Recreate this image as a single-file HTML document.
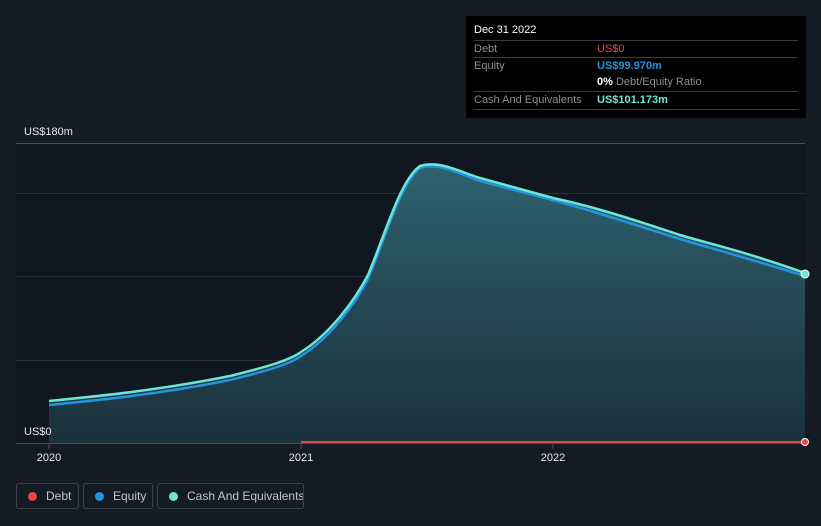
<!DOCTYPE html>
<html><head><style>
html,body{margin:0;padding:0;background:#151b25;width:821px;height:526px;overflow:hidden;font-family:"Liberation Sans",sans-serif;}
.tt{position:absolute;left:466px;top:16px;width:340px;height:102px;background:#000;font-size:11px;color:#8a8f96;}
.row{position:absolute;left:8px;right:8px;height:17px;line-height:17px;white-space:nowrap;}
.bl{border-top:1px solid #3a3d42;}
.leg{position:absolute;top:483px;height:26px;border:1px solid #3a3f48;border-radius:3px;color:#c2c6cc;font-size:12px;line-height:24px;box-sizing:border-box;white-space:nowrap;overflow:hidden;}
.leg span{display:inline-block;width:9px;height:9px;border-radius:50%;margin:0 9px 0 11px;vertical-align:-1px;}
</style></head><body>
<svg width="821" height="526" style="position:absolute;left:0;top:0">
<defs><linearGradient id="g" x1="0" y1="0" x2="0" y2="1"><stop offset="0" stop-color="#2f6673" stop-opacity="0.95"/><stop offset="1" stop-color="#1c3440" stop-opacity="0.9"/></linearGradient></defs>
<rect x="16" y="143" width="789" height="300" fill="#111720"/>
<g stroke="#2a2f37" stroke-width="1">
<line x1="16" y1="143.5" x2="805" y2="143.5" stroke="#4a4e55"/>
<line x1="16" y1="193.5" x2="805" y2="193.5"/>
<line x1="16" y1="276.5" x2="805" y2="276.5"/>
<line x1="16" y1="360.5" x2="805" y2="360.5"/>
<line x1="16" y1="443.5" x2="805" y2="443.5" stroke="#4a4e55"/>
</g>
<path d="M49,401 C100,396 160,390 230,376 C270,366 290,360 301,352 C330,334 355,300 368,275 C385,235 400,180 420,166 C440,160 460,172 480,178 L553,198 C590,206 620,215 680,235 C710,244 740,250 805,273 L805,443 L49,443 Z" fill="url(#g)"/>
<path d="M49,405 C100,400 160,394 230,380 C270,370 290,364 301,356 C330,338 355,304 368,279 C385,239 400,184 420,168 C440,162 460,174 480,181 L553,200 C590,210 620,220 680,239 C710,248 740,256 805,276" fill="none" stroke="#2394df" stroke-width="2.5"/>
<path d="M49,401 C100,396 160,390 230,376 C270,366 290,360 301,352 C330,334 355,300 368,275 C385,235 400,180 420,166 C440,160 460,172 480,178 L553,198 C590,206 620,215 680,235 C710,244 740,250 805,273" fill="none" stroke="#6ee6d6" stroke-width="2.5"/>
<line x1="301" y1="442" x2="805" y2="442" stroke="#e64646" stroke-width="2"/>
<circle cx="805" cy="442" r="3.5" fill="#e64646" stroke="#fff" stroke-width="1"/>
<circle cx="805" cy="274" r="4" fill="#6ee6d6" stroke="#fff" stroke-width="1"/>
<g stroke="#4a4e55"><line x1="49" y1="443" x2="49" y2="449"/><line x1="301" y1="443" x2="301" y2="449"/><line x1="553" y1="443" x2="553" y2="449"/></g>
<g fill="#e6e8eb" font-family="Liberation Sans" font-size="11">
<text x="24" y="135">US$180m</text>
<text x="24" y="435">US$0</text>
<text x="49" y="461" text-anchor="middle">2020</text>
<text x="301" y="461" text-anchor="middle">2021</text>
<text x="553" y="461" text-anchor="middle">2022</text>
</g>
</svg>
<div class="tt">
<div class="row" style="top:6px;color:#fff;">Dec 31 2022</div>
<div class="row bl" style="top:24px;">Debt<b style="position:absolute;left:123px;color:#e64646;font-weight:normal">US$0</b></div>
<div class="row bl" style="top:41px;">Equity<b style="position:absolute;left:123px;color:#2394df">US$99.970m</b></div>
<div class="row" style="top:58px;"><span style="position:absolute;left:123px"><b style="color:#fff">0%</b> Debt/Equity Ratio</span></div>
<div class="row bl" style="top:75px;">Cash And Equivalents<b style="position:absolute;left:123px;color:#6ee6d6">US$101.173m</b></div>
<div class="row bl" style="top:93px;height:0"></div>
</div>
<div class="leg" style="left:16px;width:63px"><span style="background:#e64646"></span>Debt</div>
<div class="leg" style="left:83px;width:70px"><span style="background:#2394df"></span>Equity</div>
<div class="leg" style="left:157px;width:147px"><span style="background:#6ee6d6"></span>Cash And Equivalents</div>
</body></html>
